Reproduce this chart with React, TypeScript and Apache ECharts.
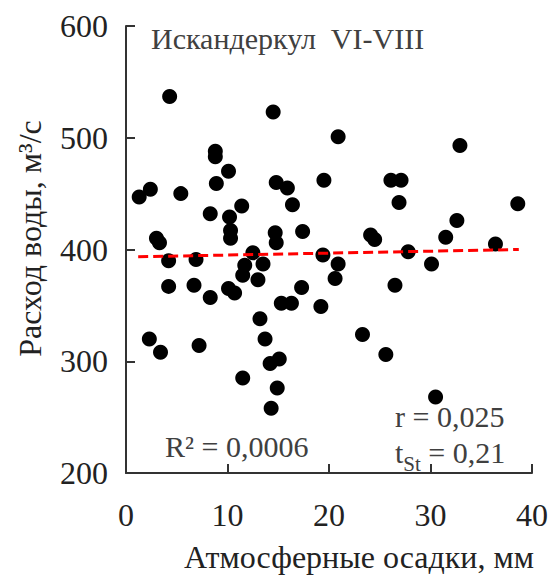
import React, { useEffect, useRef } from "react";
import * as echarts from "echarts";

const precipitation = [
  1.3, 2.4, 4.3, 5.4, 3.0, 3.3, 4.2, 6.9, 4.2, 6.7, 8.3, 2.3, 3.4, 7.2,
  8.8, 8.8, 10.1, 8.9, 8.3, 10.2, 11.4, 10.3, 10.3, 10.1, 10.7, 11.7, 11.5,
  12.5, 13.5, 13.0, 13.2, 13.7, 11.5, 14.2, 15.1, 14.9, 14.3, 14.5, 14.8,
  15.9, 16.4, 14.7, 14.8, 17.4, 17.3, 15.3, 16.3, 19.2, 19.4, 19.5, 20.9,
  20.9, 20.6, 24.1, 24.5, 23.3, 25.6, 26.1, 27.1, 26.9, 27.8, 26.5, 30.1,
  30.5, 31.5, 32.6, 32.9, 36.4, 38.6,
];
const discharge = [
  447, 454, 537, 450, 410, 406, 390, 391, 367, 368, 357, 320, 308, 314,
  488, 483, 470, 459, 432, 429, 439, 417, 410, 365, 361, 386, 377,
  397, 387, 373, 338, 320, 285, 298, 302, 276, 258, 523, 460,
  455, 440, 415, 406, 416, 366, 352, 352, 349, 395, 462, 501,
  387, 374, 413, 409, 324, 306, 462, 462, 442, 398, 368, 387,
  268, 411, 426, 493, 405, 441,
];
const trendX = [1.2, 38.7];
const trendY = [393.5, 400];
const xTicks = { min: 0, max: 40, interval: 10 };
const yTicks = { min: 200, max: 600, interval: 100 };

const titleText = "Искандеркул  VI-VIII";
const xName = "Атмосферные осадки, мм";
const yName = "Расход воды, м³/с";
const r2Text = "R² = 0,0006";
const rText = "r = 0,025";

const FONT = "'Liberation Serif', 'DejaVu Serif', serif";

export default function App() {
  const ref = useRef<HTMLDivElement>(null);
  useEffect(() => {
    document.body.style.margin = "0";
    const chart = echarts.init(ref.current!, undefined, { renderer: "svg" });
    const axisLine = { show: true, lineStyle: { color: "#333", width: 2 } };
    chart.setOption({
      animation: false,
      grid: { left: 126, right: 18, top: 26, bottom: 101, containLabel: false },
      xAxis: {
        type: "value",
        min: xTicks.min,
        max: xTicks.max,
        interval: xTicks.interval,
        axisLine,
        axisTick: { show: true, inside: true, length: 9, lineStyle: { color: "#333", width: 2 } },
        splitLine: { show: false },
        axisLabel: { fontFamily: FONT, fontSize: 32, color: "#222", margin: 26 },
        name: xName,
        nameLocation: "middle",
        nameGap: 68,
        nameTextStyle: { fontFamily: FONT, fontSize: 32, color: "#222", padding: [0, 0, 0, 60] },
      },
      yAxis: {
        type: "value",
        min: yTicks.min,
        max: yTicks.max,
        interval: yTicks.interval,
        axisLine,
        axisTick: { show: true, inside: true, length: 9, lineStyle: { color: "#333", width: 2 } },
        splitLine: { show: false },
        axisLabel: { fontFamily: FONT, fontSize: 32, color: "#222", margin: 18 },
        name: yName,
        nameLocation: "middle",
        nameGap: 80,
        nameRotate: 90,
        nameTextStyle: { fontFamily: FONT, fontSize: 32, color: "#222", padding: [0, 0, 0, 22] },
      },
      series: [
        {
          type: "scatter",
          data: precipitation.map((x, i) => [x, discharge[i]]),
          symbol: "circle",
          symbolSize: 15,
          itemStyle: { color: "#000", opacity: 1 },
          z: 2,
        },
        {
          type: "line",
          data: trendX.map((x, i) => [x, trendY[i]]),
          symbol: "none",
          lineStyle: { color: "#ff0000", width: 3, type: [10, 5] },
          z: 3,
        },
      ],
      graphic: [
        {
          type: "text",
          left: 151,
          top: 23,
          style: { text: titleText, fontFamily: FONT, fontSize: 30, fill: "#404040" },
        },
        {
          type: "text",
          left: 165,
          top: 431,
          style: { text: r2Text, fontFamily: FONT, fontSize: 30, fill: "#404040" },
        },
        {
          type: "text",
          left: 395,
          top: 401,
          style: { text: rText, fontFamily: FONT, fontSize: 30, fill: "#404040" },
        },
        {
          type: "text",
          left: 395,
          top: 437,
          style: {
            text: "{a|t}{s|St}{a| = 0,21}",
            rich: {
              a: { fontFamily: FONT, fontSize: 30, fill: "#404040", verticalAlign: "bottom" },
              s: { fontFamily: FONT, fontSize: 21, fill: "#404040", verticalAlign: "bottom", padding: [0, 0, -7, 0] },
            },
          },
        },
      ],
    });
    return () => chart.dispose();
  }, []);
  return <div ref={ref} style={{ width: 551, height: 578, position: "absolute", left: 0, top: 0 }} />;
}
